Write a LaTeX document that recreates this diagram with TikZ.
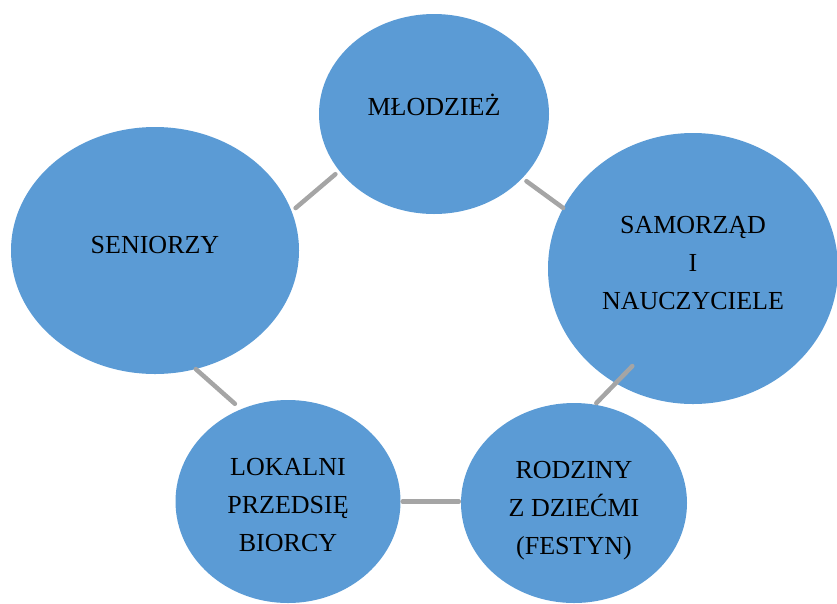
\documentclass[tikz,border=0pt]{standalone}
\usepackage{fontspec}
\setmainfont{Liberation Serif}
\usetikzlibrary{shapes.geometric}

\begin{document}
\begin{tikzpicture}[x=1pt, y=-1pt,
    group/.style={ellipse, fill=groupblue, inner sep=0pt, text centered, align=center, font=\fontsize{26}{38}\selectfont},
    link/.style={draw=linkgray, line width=4.5pt, line cap=round}
    ]
    \definecolor{groupblue}{HTML}{5B9BD5}
    \definecolor{linkgray}{HTML}{A5A5A5}
    \useasboundingbox (0,0) rectangle (837,603);

    % nodes
    \node[group, minimum width=230pt, minimum height=200pt, text depth=18pt] (mlodziez) at (434,114) {MŁODZIEŻ};
    \node[group, minimum width=288pt, minimum height=247pt, text depth=12pt] (seniorzy) at (155,250.5) {SENIORZY};
    \node[group, minimum width=290pt, minimum height=271pt, text depth=12pt] (samorzad) at (693,268.5) {SAMORZĄD\\I\\NAUCZYCIELE};
    \node[group, minimum width=225pt, minimum height=203pt, text height=101pt] (lokalni) at (288,501.5) {LOKALNI\\PRZEDSIĘ\\BIORCY};
    \node[group, minimum width=226pt, minimum height=200pt, text height=102pt, text depth=0pt] (rodziny) at (574,503) {RODZINY\\Z DZIEĆMI\\(FESTYN)};

    % lines (anchors at angles so the short links sit in the gaps)
    \path[link, shorten <=5pt, shorten >=5pt] (mlodziez.211.6) -- (seniorzy.16.9);
    \path[link, shorten <=5pt] (mlodziez.324.9) -- (samorzad.155.6);
    \path[link, shorten <=2pt, shorten >=-24pt] (rodziny.78) -- (samorzad.236.6);
    \path[link, shorten <=2pt, shorten >=2pt] (lokalni.east) -- (lokalni.east -| rodziny.west);
    \path[link, shorten >=8pt] (seniorzy.289.7) -- (lokalni.117.1);

\end{tikzpicture}
\end{document}
